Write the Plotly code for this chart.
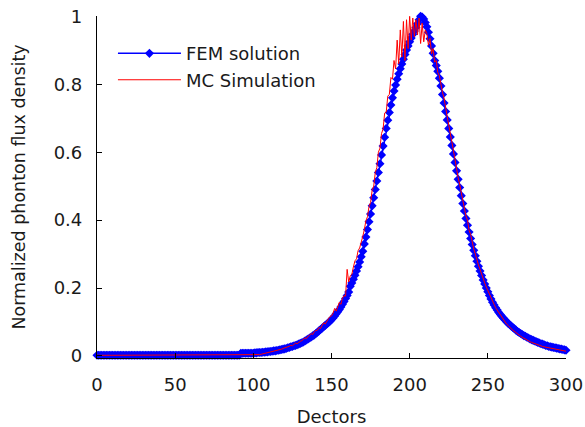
import plotly.graph_objects as go

# Detector index (0..300)
detectors = list(range(0, 301))

# FEM solution (normalized)
fem = [
    # 0-91 flat
    0.002, 0.002, 0.002, 0.002, 0.002, 0.002, 0.002, 0.002, 0.002, 0.002,
    0.002, 0.002, 0.002, 0.002, 0.002, 0.002, 0.002, 0.002, 0.002, 0.002,
    0.002, 0.002, 0.002, 0.002, 0.002, 0.002, 0.002, 0.002, 0.002, 0.002,
    0.002, 0.002, 0.002, 0.002, 0.002, 0.002, 0.002, 0.002, 0.002, 0.002,
    0.002, 0.002, 0.002, 0.002, 0.002, 0.002, 0.002, 0.002, 0.002, 0.002,
    0.002, 0.002, 0.002, 0.002, 0.002, 0.002, 0.002, 0.002, 0.002, 0.002,
    0.002, 0.002, 0.002, 0.002, 0.002, 0.002, 0.002, 0.002, 0.002, 0.002,
    0.002, 0.002, 0.002, 0.002, 0.002, 0.002, 0.002, 0.002, 0.002, 0.002,
    0.002, 0.002, 0.002, 0.002, 0.002, 0.002, 0.002, 0.002, 0.002, 0.002,
    0.002, 0.002,
    # 92-100
    0.008, 0.008, 0.008, 0.008, 0.008, 0.008, 0.008, 0.008, 0.008,
    # 101-110
    0.009, 0.009, 0.010, 0.010, 0.010, 0.011, 0.011, 0.012, 0.012, 0.013,
    # 111-120
    0.013, 0.014, 0.015, 0.015, 0.016, 0.017, 0.018, 0.019, 0.020, 0.021,
    # 121-130
    0.022, 0.024, 0.025, 0.027, 0.028, 0.030, 0.031, 0.033, 0.035, 0.037,
    # 131-140
    0.039, 0.041, 0.044, 0.047, 0.050, 0.053, 0.056, 0.059, 0.062, 0.066,
    # 141-150
    0.070, 0.074, 0.078, 0.082, 0.086, 0.090, 0.094, 0.098, 0.102, 0.107,
    # 151-160
    0.112, 0.118, 0.124, 0.130, 0.137, 0.144, 0.152, 0.160, 0.169, 0.178,
    # 161-170
    0.188, 0.205, 0.215, 0.226, 0.238, 0.250, 0.263, 0.277, 0.292, 0.308,
    # 171-180
    0.330, 0.350, 0.372, 0.395, 0.418, 0.442, 0.466, 0.490, 0.515, 0.540,
    # 181-190
    0.566, 0.592, 0.618, 0.644, 0.670, 0.694, 0.717, 0.739, 0.760, 0.780,
    # 191-200
    0.798, 0.815, 0.831, 0.846, 0.860, 0.874, 0.888, 0.901, 0.913, 0.925,
    # 201-210
    0.936, 0.947, 0.957, 0.967, 0.978, 0.990, 1.000, 0.998, 0.992, 0.982,
    # 211-220
    0.969, 0.953, 0.934, 0.913, 0.891, 0.870, 0.855, 0.838, 0.818, 0.795,
    # 221-230
    0.770, 0.745, 0.720, 0.695, 0.670, 0.645, 0.620, 0.595, 0.570, 0.545,
    # 231-240
    0.520, 0.496, 0.472, 0.449, 0.427, 0.405, 0.385, 0.365, 0.346, 0.328,
    # 241-250
    0.311, 0.295, 0.279, 0.264, 0.250, 0.237, 0.224, 0.212, 0.200, 0.189,
    # 251-260
    0.178, 0.168, 0.158, 0.150, 0.142, 0.135, 0.128, 0.122, 0.116, 0.111,
    # 261-270
    0.106, 0.101, 0.096, 0.092, 0.088, 0.084, 0.080, 0.076, 0.072, 0.069,
    # 271-280
    0.066, 0.063, 0.060, 0.058, 0.055, 0.053, 0.050, 0.048, 0.046, 0.044,
    # 281-290
    0.042, 0.040, 0.038, 0.036, 0.035, 0.033, 0.031, 0.030, 0.028, 0.027,
    # 291-300
    0.026, 0.025, 0.024, 0.023, 0.022, 0.021, 0.020, 0.019, 0.018, 0.017,
]

# MC simulation (normalized)
mc = [
    # 0-105
    0.002, 0.003, 0.002, 0.002, 0.003, 0.002, 0.002, 0.003, 0.002, 0.002,
    0.002, 0.003, 0.002, 0.002, 0.003, 0.002, 0.002, 0.003, 0.002, 0.002,
    0.002, 0.003, 0.002, 0.002, 0.003, 0.002, 0.002, 0.003, 0.002, 0.002,
    0.002, 0.003, 0.002, 0.002, 0.003, 0.002, 0.002, 0.003, 0.002, 0.002,
    0.002, 0.003, 0.002, 0.002, 0.003, 0.002, 0.002, 0.003, 0.002, 0.002,
    0.002, 0.003, 0.002, 0.002, 0.003, 0.002, 0.002, 0.003, 0.002, 0.002,
    0.002, 0.003, 0.002, 0.002, 0.003, 0.002, 0.002, 0.003, 0.002, 0.002,
    0.002, 0.003, 0.002, 0.002, 0.003, 0.002, 0.002, 0.003, 0.002, 0.002,
    0.002, 0.003, 0.002, 0.002, 0.003, 0.002, 0.002, 0.003, 0.002, 0.002,
    0.002, 0.003, 0.002, 0.002, 0.003, 0.002, 0.002, 0.003, 0.003, 0.003,
    0.003, 0.004, 0.003, 0.004, 0.004, 0.005,
    # 106-120
    0.006, 0.007, 0.008, 0.010, 0.011, 0.012, 0.012, 0.014, 0.015, 0.016,
    0.018, 0.019, 0.020, 0.022, 0.023,
    # 121-130
    0.025, 0.027, 0.029, 0.031, 0.030, 0.035, 0.038, 0.036, 0.041, 0.043,
    # 131-140
    0.045, 0.049, 0.053, 0.051, 0.058, 0.061, 0.066, 0.063, 0.072, 0.075,
    # 141-150
    0.076, 0.084, 0.081, 0.090, 0.098, 0.094, 0.104, 0.110, 0.116, 0.118,
    # 151-160
    0.126, 0.140, 0.132, 0.146, 0.158, 0.152, 0.170, 0.178, 0.176, 0.255,
    # 161-170
    0.218, 0.236, 0.240, 0.262, 0.280, 0.286, 0.310, 0.318, 0.340, 0.352,
    # 171-180
    0.372, 0.398, 0.410, 0.440, 0.452, 0.488, 0.500, 0.540, 0.555, 0.600,
    # 181-190
    0.612, 0.655, 0.668, 0.715, 0.718, 0.765, 0.770, 0.820, 0.815, 0.870,
    # 191-200
    0.845, 0.930, 0.860, 0.960, 0.880, 0.985, 0.870, 0.990, 0.905, 1.000,
    # 201-210
    0.930, 0.995, 0.940, 0.990, 0.945, 0.995, 0.920, 0.980, 0.925, 0.960,
    # 211-220
    0.950, 0.915, 0.935, 0.890, 0.905, 0.865, 0.870, 0.835, 0.825, 0.795,
    # 221-230
    0.775, 0.760, 0.725, 0.705, 0.680, 0.650, 0.630, 0.605, 0.575, 0.555,
    # 231-240
    0.525, 0.505, 0.480, 0.455, 0.435, 0.412, 0.400, 0.370, 0.358, 0.333,
    # 241-250
    0.315, 0.300, 0.282, 0.268, 0.255, 0.240, 0.228, 0.215, 0.203, 0.192,
    # 251-260
    0.180, 0.172, 0.160, 0.152, 0.142, 0.135, 0.126, 0.120, 0.112, 0.106,
    # 261-270
    0.100, 0.094, 0.090, 0.084, 0.080, 0.076, 0.072, 0.068, 0.064, 0.061,
    # 271-280
    0.058, 0.055, 0.052, 0.049, 0.047, 0.044, 0.042, 0.040, 0.038, 0.036,
    # 281-290
    0.034, 0.033, 0.031, 0.030, 0.028, 0.027, 0.026, 0.025, 0.024, 0.023,
    # 291-300
    0.022, 0.021, 0.020, 0.019, 0.018, 0.018, 0.017, 0.016, 0.015, 0.014,
]

x_ticks = [0, 50, 100, 150, 200, 250, 300]
y_ticks = [0, 0.2, 0.4, 0.6, 0.8, 1]
y_tick_labels = ["0", "0.2", "0.4", "0.6", "0.8", "1"]

FONT = "DejaVu Sans"

fig = go.Figure()
fig.add_trace(go.Scatter(
    x=detectors, y=fem, name="FEM solution", mode="lines+markers",
    line=dict(color="#0000ff", width=1.5),
    marker=dict(symbol="diamond", size=7, color="#0000ff"),
    cliponaxis=False,
))
fig.add_trace(go.Scatter(
    x=detectors, y=mc, name="MC Simulation", mode="lines",
    line=dict(color="#ff0000", width=1),
    cliponaxis=False,
))

fig.update_layout(
    width=585, height=427,
    margin=dict(l=97, r=19, t=16, b=69),
    paper_bgcolor="white", plot_bgcolor="white",
    font=dict(family=FONT, size=18, color="#1a1a1a"),
    showlegend=True,
    hovermode=False,
    legend=dict(
        x=0.034, y=0.944, xanchor="left", yanchor="top",
        bgcolor="rgba(0,0,0,0)", font=dict(family=FONT, size=18),
        itemwidth=63, tracegroupgap=0,
    ),
    xaxis=dict(
        range=[0, 300], tickmode="array", tickvals=x_ticks,
        ticks="inside", ticklen=5, tickcolor="black",
        showline=True, linecolor="black", linewidth=1.2, mirror=False,
        showgrid=False, zeroline=False, automargin=False,
        tickfont=dict(family=FONT, size=18),
        ticklabelstandoff=10,
        title=dict(text="Dectors", font=dict(family=FONT, size=18), standoff=24),
    ),
    yaxis=dict(
        range=[-0.006, 1.001], tickmode="array", tickvals=y_ticks, ticktext=y_tick_labels,
        ticks="inside", ticklen=5, tickcolor="black",
        showline=True, linecolor="black", linewidth=1.2, mirror=False,
        showgrid=False, zeroline=False, automargin=False,
        tickfont=dict(family=FONT, size=18),
        ticklabelstandoff=10,
        title=dict(text="Normalized phonton flux density", font=dict(family=FONT, size=17.5), standoff=23),
    ),
)

# Remove the browser's default page margin so the 585x427 figure fills the window exactly
fig.write_html(
    "out.html",
    config={"displayModeBar": False},
    post_script="document.body.style.margin='0';document.body.style.overflow='hidden';",
)
